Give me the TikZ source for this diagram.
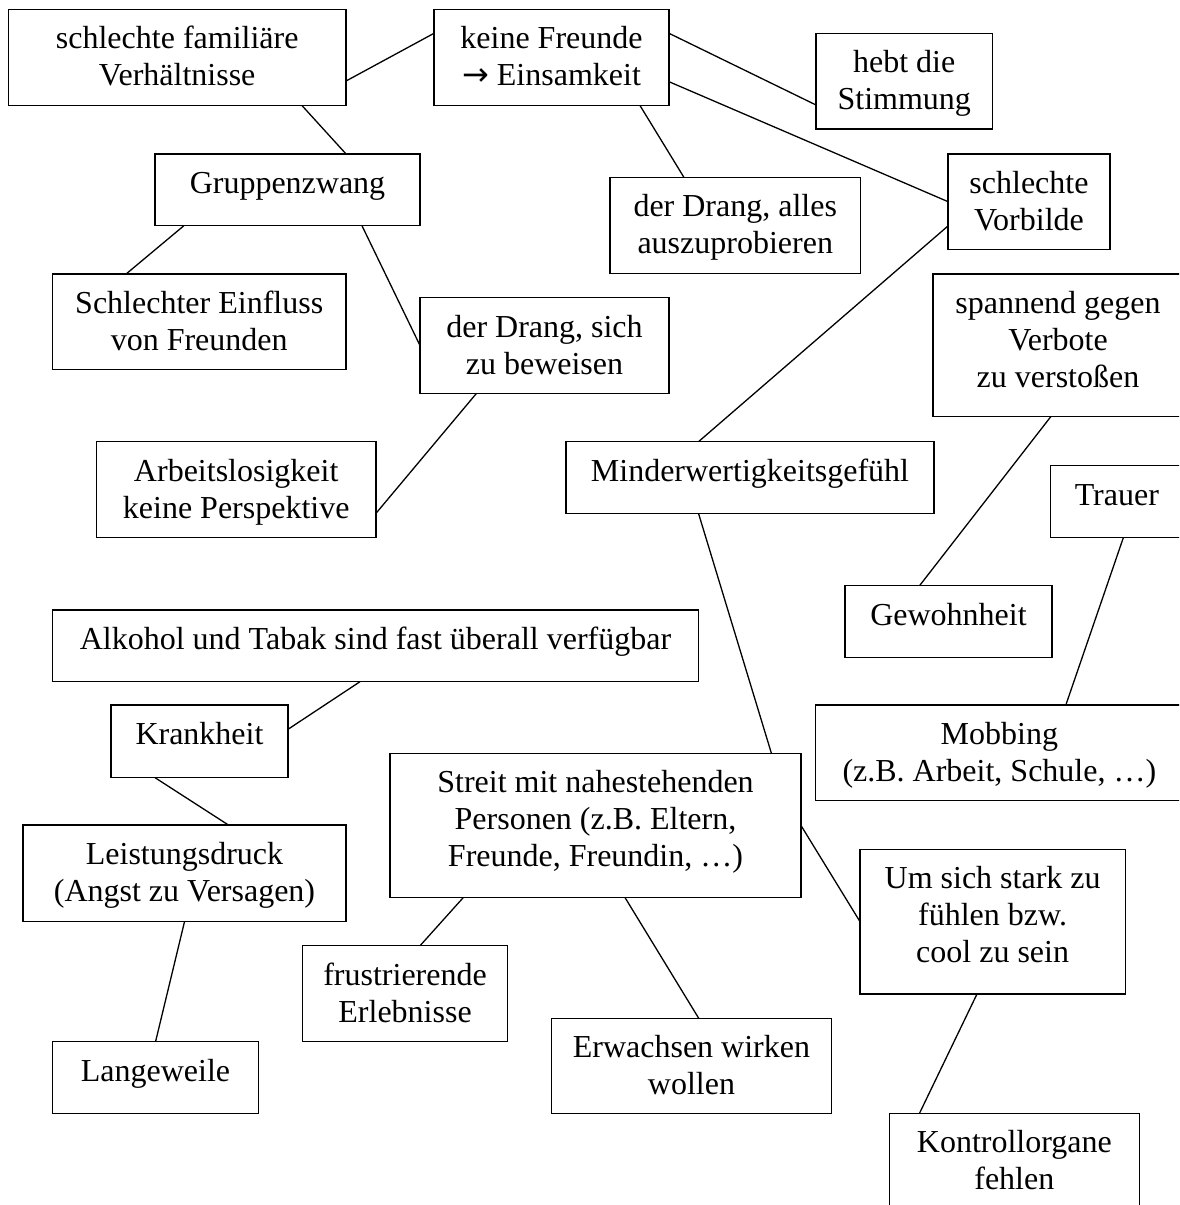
\documentclass[tikz,border=0pt]{standalone}
\usepackage{fontspec}
\setmainfont{Liberation Serif}
\newfontfamily\arrowfont{DejaVu Sans}
\usetikzlibrary{calc}
\tikzset{
  boxst/.style={draw=black, line width=0.65pt, fill=none, inner sep=0pt, outer sep=0pt, anchor=north west},
  txtst/.style={inner sep=0pt, anchor=base, font=\fontsize{16pt}{18.4pt}\selectfont},
  conn/.style={draw=black, line width=0.65pt}
}
\newcommand{\mybox}[6]{%
  \node[boxst, minimum width={(#4-#2)*0.5pt}, minimum height={(#5-#3)*0.5pt}] (#1) at (#2,#3) {};
  \node[txtst] (#1t) at ([yshift=-19.75pt]#1.north) {\begin{tabular}[t]{@{}c@{}}#6\end{tabular}};%
}
\begin{document}
\begin{tikzpicture}[x=0.5pt, y=-0.5pt]
\useasboundingbox (0,0) rectangle (1179,1205);
\clip (0,0) rectangle (1179,1205);
\fill[white] (0,0) rectangle (1179,1205);

\mybox{fam}{8.4}{9.3}{346}{105.7}{schlechte familiäre\\Verhältnisse}
\mybox{fre}{434}{9.3}{669}{105.7}{keine Freunde\\{\arrowfont →} Einsamkeit}
\mybox{heb}{816}{33.3}{992.5}{129}{hebt die\\Stimmung}
\mybox{gru}{155}{154}{420}{225.7}{Gruppenzwang}
\mybox{dra}{610}{177.3}{860.5}{273.3}{der Drang, alles\\auszuprobieren}
\mybox{vor}{948}{154}{1110}{249.3}{schlechte\\Vorbilde}
\mybox{ein}{52.4}{274}{346}{369.3}{Schlechter Einfluss\\von Freunden}
\mybox{bew}{420}{297.7}{669}{393.3}{der Drang, sich\\zu beweisen}
\mybox{spa}{933}{274}{1183}{416.7}{spannend gegen\\Verbote\\zu verstoßen}
\mybox{arb}{96.4}{441.7}{376}{537.3}{Arbeitslosigkeit\\keine Perspektive}
\mybox{min}{566}{441.7}{934}{513.3}{Minderwertigkeitsgefühl}
\mybox{tra}{1050.7}{465.7}{1183}{537.3}{Trauer}
\mybox{gew}{845}{585.7}{1052}{657.7}{Gewohnheit}
\mybox{alk}{52.4}{610}{698.6}{681.7}{Alkohol und Tabak sind fast überall verfügbar}
\mybox{kra}{111}{705}{288}{777.7}{Krankheit}
\mybox{mob}{815.7}{705}{1183}{800.7}{Mobbing\\(z.B. Arbeit, Schule, …)}
\mybox{str}{390}{753.3}{801}{897.7}{Streit mit nahestehenden\\Personen (z.B. Eltern,\\Freunde, Freundin, …)}
\mybox{lei}{23}{825}{346}{921.7}{Leistungsdruck\\(Angst zu Versagen)}
\mybox{ums}{860}{849.3}{1125.3}{994}{Um sich stark zu\\fühlen bzw.\\cool zu sein}
\mybox{fru}{302.3}{945.7}{507.8}{1041.7}{frustrierende\\Erlebnisse}
\mybox{erw}{551.5}{1018.3}{831.4}{1113.3}{Erwachsen wirken\\wollen}
\mybox{lan}{52.4}{1041.7}{258.7}{1113.3}{Langeweile}
\mybox{kon}{889.2}{1113.3}{1139.5}{1230}{Kontrollorgane\\fehlen}

% connectors
\draw[conn] ($(fam.north east)!0.744!(fam.south east)$) -- ($(fre.north west)!0.249!(fre.south west)$);
\draw[conn] ($(fam.south west)!0.870!(fam.south east)$) -- ($(gru.north west)!0.721!(gru.north east)$);
\draw[conn] ($(fre.north east)!0.249!(fre.south east)$) -- ($(heb.north west)!0.749!(heb.south west)$);
\draw[conn] ($(fre.north east)!0.751!(fre.south east)$) -- (vor.west);
\draw[conn] ($(fre.south west)!0.877!(fre.south east)$) -- ($(dra.north west)!0.295!(dra.north east)$);
\draw[conn] ($(gru.south west)!0.109!(gru.south east)$) -- ($(ein.north west)!0.251!(ein.north east)$);
\draw[conn] ($(gru.south west)!0.781!(gru.south east)$) -- (bew.west);
\draw[conn] ($(bew.south west)!0.227!(bew.south east)$) -- ($(arb.north east)!0.749!(arb.south east)$);
\draw[conn] ($(vor.north west)!0.755!(vor.south west)$) -- ($(min.north west)!0.360!(min.north east)$);
\draw[conn] ($(spa.south west)!0.471!(spa.south east)$) -- ($(gew.north west)!0.360!(gew.north east)$);
\draw[conn] ($(tra.south west)!0.550!(tra.south east)$) -- ($(mob.north west)!0.681!(mob.north east)$);
\draw[conn] ($(min.south west)!0.360!(min.south east)$) -- ($(str.north west)!0.928!(str.north east)$);
\draw[conn] ($(alk.south west)!0.476!(alk.south east)$) -- ($(kra.north east)!0.334!(kra.south east)$);
\draw[conn] ($(kra.south west)!0.249!(kra.south east)$) -- ($(lei.north west)!0.636!(lei.north east)$);
\draw[conn] (lei.south) -- (lan.north);
\draw[conn] ($(str.south west)!0.178!(str.south east)$) -- ($(fru.north west)!0.573!(fru.north east)$);
\draw[conn] ($(str.south west)!0.572!(str.south east)$) -- ($(erw.north west)!0.526!(erw.north east)$);
\draw[conn] (str.east) -- (ums.west);
\draw[conn] ($(ums.south west)!0.441!(ums.south east)$) -- ($(kon.north west)!0.121!(kon.north east)$);
\end{tikzpicture}
\end{document}
